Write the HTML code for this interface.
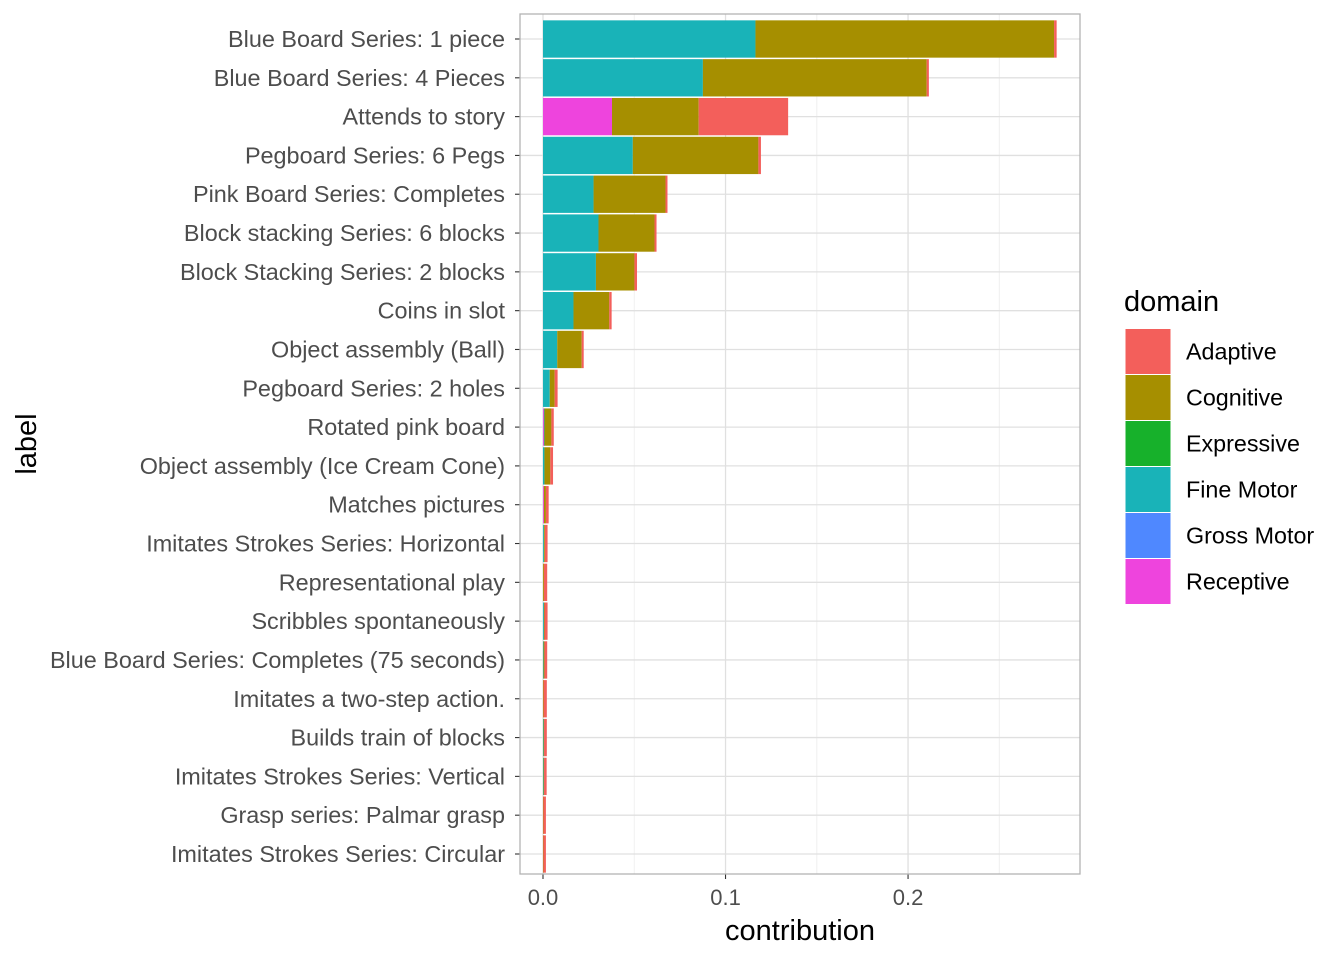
<!DOCTYPE html>
<html><head><meta charset="utf-8"><style>
body{margin:0;background:#fff;font-family:"Liberation Sans",Arial,sans-serif}
</style></head><body>
<svg id="chart" width="1344" height="960" xmlns="http://www.w3.org/2000/svg" font-family="Liberation Sans, Arial, sans-serif"></svg>
<script>
const labels=["Blue Board Series: 1 piece","Blue Board Series: 4 Pieces","Attends to story","Pegboard Series: 6 Pegs","Pink Board Series: Completes","Block stacking Series: 6 blocks","Block Stacking Series: 2 blocks","Coins in slot","Object assembly (Ball)","Pegboard Series: 2 holes","Rotated pink board","Object assembly (Ice Cream Cone)","Matches pictures","Imitates Strokes Series: Horizontal","Representational play","Scribbles spontaneously","Blue Board Series: Completes (75 seconds)","Imitates a two-step action.","Builds train of blocks","Imitates Strokes Series: Vertical","Grasp series: Palmar grasp","Imitates Strokes Series: Circular"];
const domains=["Adaptive","Cognitive","Expressive","Fine Motor","Gross Motor","Receptive"];
const domainColors=["#F35F5B","#A68F00","#17B12B","#19B3B8","#4F88FF","#EE44DD"];
const receptive=[0,0,0.0378,0,0,0,0,0,0,0,0.0005,0,0.0005,0,0,0,0,0,0,0,0,0];
const grossMotor=[0,0,0,0,0,0,0,0,0,0,0,0,0,0,0,0,0,0,0,0,0,0];
const fineMotor=[0.1164,0.0876,0,0.0492,0.0277,0.0304,0.029,0.0167,0.0078,0.0037,0.0003,0.0008,0,0.0005,0,0.0005,0.0003,0,0.0003,0.0003,0,0];
const expressive=[0,0,0,0,0,0,0,0,0,0,0,0,0,0,0,0,0,0,0,0,0,0];
const cognitive=[0.1636,0.1226,0.0475,0.0688,0.0394,0.0307,0.0211,0.0196,0.0134,0.0027,0.0038,0.0032,0.0011,0.0005,0.0005,0.0003,0.0005,0.0003,0.0003,0.0003,0.0002,0.0002];
const adaptive=[0.0014,0.0012,0.049,0.0014,0.0011,0.0011,0.0014,0.0013,0.0011,0.0016,0.0013,0.0015,0.0015,0.0015,0.0018,0.0017,0.0015,0.0018,0.0015,0.0014,0.0014,0.0014];
const xTicks=[0,0.1,0.2];
const xTickLabels=["0.0","0.1","0.2"];
const NS="http://www.w3.org/2000/svg";
const svg=document.getElementById('chart');
const P={l:520,r:1080,t:14,b:874};
const xmin=-0.0126,xmax=0.2942;
const x=v=>P.l+(v-xmin)/(xmax-xmin)*(P.r-P.l);
const step=(854-39)/(labels.length-1);
const yc=i=>39+step*i;
function mk(t,a,p){const e=document.createElementNS(NS,t);for(const k in a)e.setAttribute(k,a[k]);(p||svg).appendChild(e);return e;}
const panel=mk('rect',{x:P.l,y:P.t,width:P.r-P.l,height:P.b-P.t,fill:'#fff'});


for(let v=0.05;v<xmax;v+=0.1){const g=mk('line',{x1:x(v),x2:x(v),y1:P.t,y2:P.b,stroke:'#f0f0f0','stroke-width':1});

}
xTicks.forEach((v,i)=>{const g=mk('line',{x1:x(v),x2:x(v),y1:P.t,y2:P.b,stroke:'#e0e0e0','stroke-width':1.3});


const t=mk('line',{x1:x(v),x2:x(v),y1:P.b,y2:P.b+5,stroke:'#333','stroke-width':1.1});


const tl=mk('text',{x:x(v),y:P.b+31,'text-anchor':'middle','font-size':22,fill:'#4d4d4d'});tl.textContent=xTickLabels[i];

});
const series=[receptive,grossMotor,fineMotor,expressive,cognitive,adaptive];
const seriesColor=[domainColors[5],domainColors[4],domainColors[3],domainColors[2],domainColors[1],domainColors[0]];
const seriesName=['receptive','gross-motor','fine-motor','expressive','cognitive','adaptive'];
labels.forEach((lab,i)=>{
 const c=yc(i);
 const g=mk('line',{x1:P.l,x2:P.r,y1:c,y2:c,stroke:'#e0e0e0','stroke-width':1.3});
 
 
 const t=mk('line',{x1:P.l-5,x2:P.l,y1:c,y2:c,stroke:'#333','stroke-width':1.1});
 
 
 const tl=mk('text',{x:P.l-15,y:c+8,'text-anchor':'end','font-size':23.4,fill:'#4d4d4d'});tl.textContent=lab;
 
 
});
labels.forEach((lab,i)=>{
 const h=step-1.5,c=yc(i);let cum=0;
 series.forEach((s,k)=>{const v=s[i];if(v<=0)return;
  const r=mk('rect',{x:x(cum),y:c-h/2,width:Math.max(x(cum+v)-x(cum),0.8),height:h,fill:seriesColor[k]});
  
  
  cum+=v;});
});
const border=mk('rect',{x:P.l,y:P.t,width:P.r-P.l,height:P.b-P.t,fill:'none',stroke:'#b3b3b3','stroke-width':1.3});


const xt=mk('text',{x:800,y:940,'text-anchor':'middle','font-size':29,fill:'#000'});xt.textContent='contribution';


const yt=mk('text',{x:0,y:0,transform:'translate(36,444) rotate(-90)','text-anchor':'middle','font-size':29,fill:'#000'});yt.textContent='label';


const lt=mk('text',{x:1124,y:311,'font-size':29,fill:'#000'});lt.textContent='domain';


domains.forEach((d,i)=>{const y0=328.5+i*46;
 const k=mk('rect',{x:1125,y:y0,width:46,height:46,fill:domainColors[i],stroke:'#fff','stroke-width':1});
 
 
 const t=mk('text',{x:1186,y:y0+31,'font-size':23.3,fill:'#000'});t.textContent=d;
 
 });
</script>
</body></html>
